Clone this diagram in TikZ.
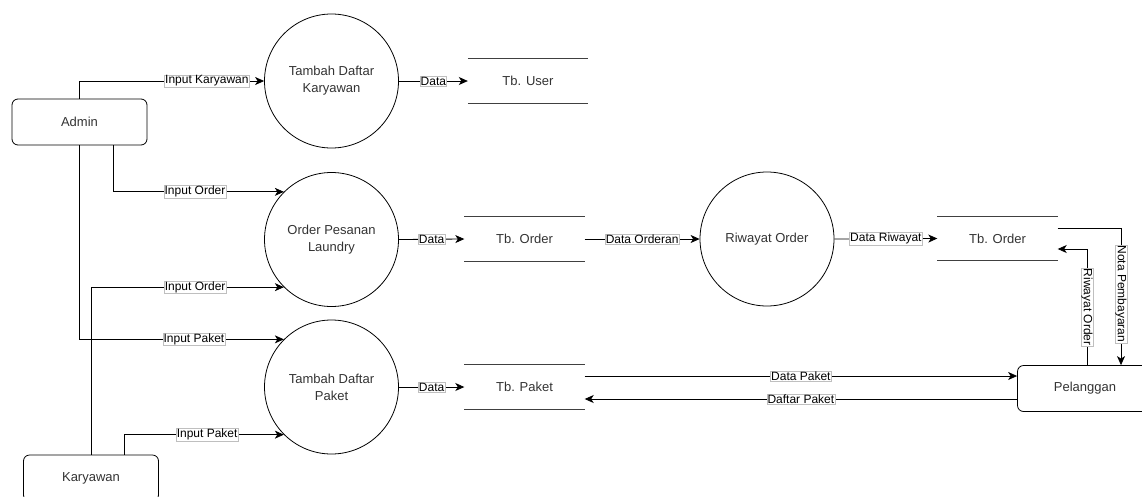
\documentclass[tikz,border=0pt]{standalone}
\usepackage{fontspec}
\setmainfont{Liberation Sans}
\usetikzlibrary{arrows.meta}
\usetikzlibrary{calc}
\tikzset{txt/.style={font=\fontsize{13}{17}\selectfont, text=black!80}}
\tikzset{lbl/.style={font=\fontsize{12}{12}\selectfont, fill=white, draw=black!25, line width=.4pt, inner sep=.6pt}}
\tikzset{proc/.style={txt, circle, draw, line width=.8pt, minimum size=134pt, align=center}}
\tikzset{ent/.style={txt, rectangle, draw, line width=.8pt, rounded corners=6pt, minimum width=135pt, minimum height=46pt}}
\tikzset{store/.style={txt, minimum width=120pt, minimum height=44pt}}
\tikzset{flow/.style={line width=.8pt, -{Stealth[length=9pt, width=8pt, inset=2.5pt]}}}
\newcommand{\datastore}[3]{
  \node[store] (#1) at (#2) {#3};
  \draw[line width=1pt, black!75] (#1.north west) -- (#1.north east)
    (#1.south west) -- (#1.south east);
}

\begin{document}
\begin{tikzpicture}[x=1pt, y=-1pt]
    \clip (0,0) rectangle (1142,496);
    % entities
    \node[ent] (admin) at (79.5,122) {Admin};
    \node[ent] (kary) at (91,478) {Karyawan};
    \node[ent] (pel) at (1085,388.5) {Pelanggan};
    % processes
    \node[proc] (tdk) at (331.5,81) {Tambah Daftar\\Karyawan};
    \node[proc] (opl) at (331.5,239.5) {Order Pesanan\\Laundry};
    \node[proc] (tdp) at (331.5,387) {Tambah Daftar\\Paket};
    \node[proc] (riw) at (767,239) {Riwayat Order};
    % data stores
    \datastore{tbuser}{528,81}{Tb. User}
    \datastore{tborder}{524.5,239}{Tb. Order}
    \datastore{tbpaket}{524.5,387}{Tb. Paket}
    \datastore{tbriw}{997.5,238.5}{Tb. Order}
    % flows
    \draw[flow] (admin.north) |- (tdk.west)
      node [lbl, pos=.845] {Input Karyawan};
    \draw[flow] ([xshift=33.5pt]admin.south) |- (opl.135)
      node [lbl, pos=.74] {Input Order};
    \draw[flow] (admin.south) |- (tdp.135)
      node [lbl, pos=.78] {Input Paket};
    \draw[flow] (kary.north) |- (opl.225)
      node [lbl, pos=.77] {Input Order};
    \draw[flow] ([xshift=33pt]kary.north) |- (tdp.225)
      node [lbl, pos=.76] {Input Paket};
    \draw[flow] (tdk.east) -- (tbuser.west) node [lbl, midway] {Data};
    \draw[flow] (opl.east) -- (tborder.west) node [lbl, midway] {Data};
    \draw[flow] (tdp.east) -- (tbpaket.west) node [lbl, midway] {Data};
    \draw[flow] (tborder.east) -- (riw.west) node [lbl, midway] {Data Orderan};
    \draw[flow] (riw.east) -- (tbriw.west) node [lbl, midway] {Data Riwayat};
    \draw[flow] ([yshift=10.5pt]tbriw.east) -| ([xshift=36pt]pel.north)
      node [lbl, rotate=-90, pos=.74] {Nota Pembayaran};
    \draw[flow] ([xshift=2pt]pel.north) |- ([yshift=-10.5pt]tbriw.east)
      node [lbl, rotate=-90, pos=.25] {Riwayat Order};
    \draw[flow] ([yshift=11pt]tbpaket.east) coordinate (dp) -- (dp -| pel.west)
      node [lbl, midway] {Data Paket};
    \draw[flow] ([yshift=-10.5pt]pel.west) coordinate (dfp) -- (dfp -| tbpaket.east)
      node [lbl, midway] {Daftar Paket};
\end{tikzpicture}
\end{document}
